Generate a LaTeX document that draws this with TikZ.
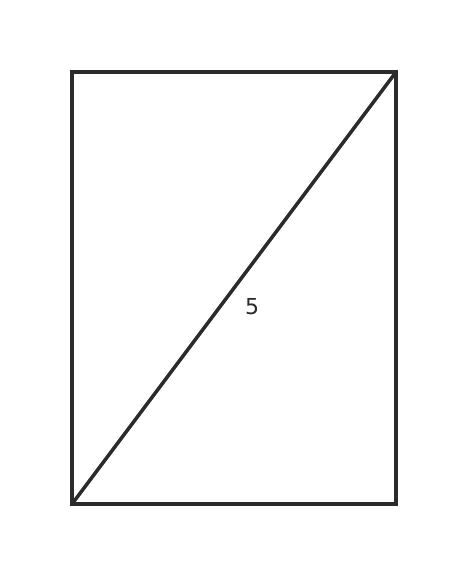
\documentclass[tikz,border=0pt]{standalone}
\usepackage{fontspec}
\setmainfont{DejaVu Sans}
\definecolor{ink}{HTML}{2B2B2B}
\begin{document}
\begin{tikzpicture}[x=1pt,y=1pt,line width=3.5pt,draw=ink]
        \useasboundingbox (0,0) rectangle (468,576);
        \coordinate (bl) at (72,72);
        \coordinate (tr) at (396,504);
        \draw (bl) rectangle (tr);
        \draw (bl) -- (tr);
        \node [text=ink, font=\fontsize{22}{26}\selectfont] (len) at (252,269) {5};
      \end{tikzpicture}
\end{document}
